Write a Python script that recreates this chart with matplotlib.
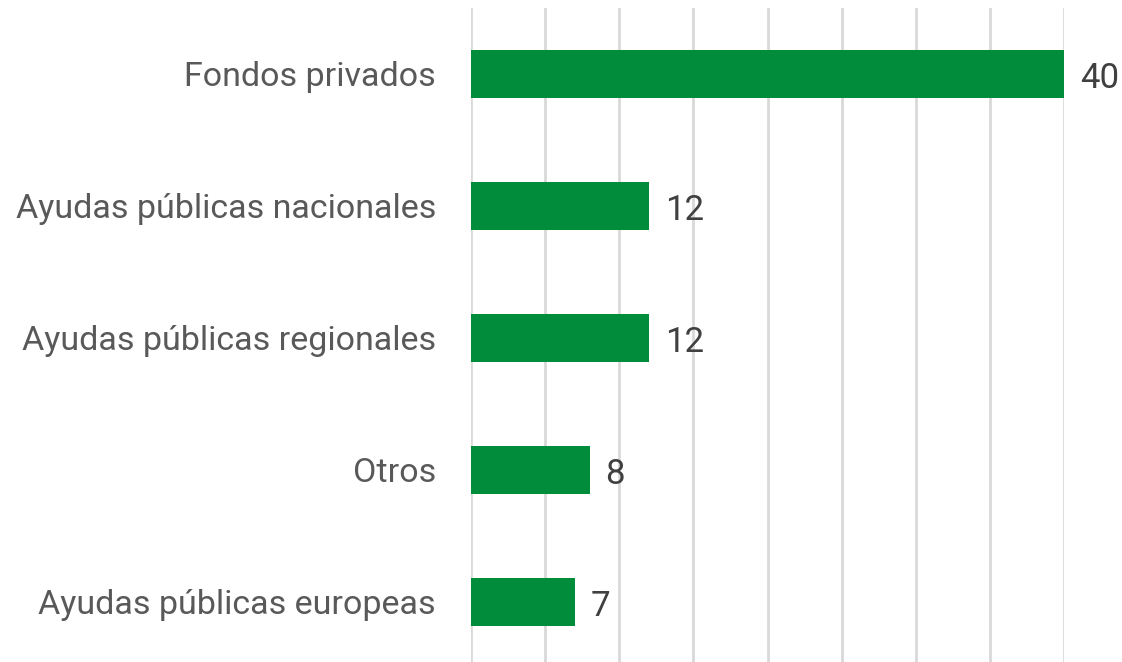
import matplotlib
matplotlib.use("Agg")
import matplotlib.pyplot as plt

categories = ["Fondos privados", "Ayudas públicas nacionales", "Ayudas públicas regionales",
              "Otros", "Ayudas públicas europeas"]
values = [40, 12, 12, 8, 7]
x_ticks = [0, 5, 10, 15, 20, 25, 30, 35, 40]

W, H = 1122, 662
fig = plt.figure(figsize=(W / 100, H / 100), dpi=100)
ax = fig.add_axes([471 / W, 0, (1064 - 471) / W, (662 - 8) / H])

plt.rcParams['font.family'] = ['Roboto', 'DejaVu Sans']

ypos = list(range(len(categories)))
ax.barh(ypos, values, height=0.36, color="#008C3A", zorder=3)
ax.set_xlim(0, 40)
ax.set_ylim(4 + 60 / 132, -0.5)
ax.set_xticks(x_ticks)
ax.set_yticks([])
ax.grid(axis="x", color="#d9d9d9", linewidth=2, zorder=0)
ax.tick_params(axis="x", length=0, labelbottom=False)
for s in ax.spines.values():
    s.set_visible(False)

for y, c, v in zip(ypos, categories, values):
    ax.annotate(c, xy=(0, y), xytext=(-35, -3), textcoords="offset pixels",
                ha="right", va="center", fontsize=24.5, color="#595959", family="Roboto")
    ax.annotate(str(v), xy=(v, y), xytext=(16, -5), textcoords="offset pixels",
                ha="left", va="center", fontsize=25, color="#404040", family="Roboto",
                annotation_clip=False)

fig.savefig("out.png", dpi=100)
